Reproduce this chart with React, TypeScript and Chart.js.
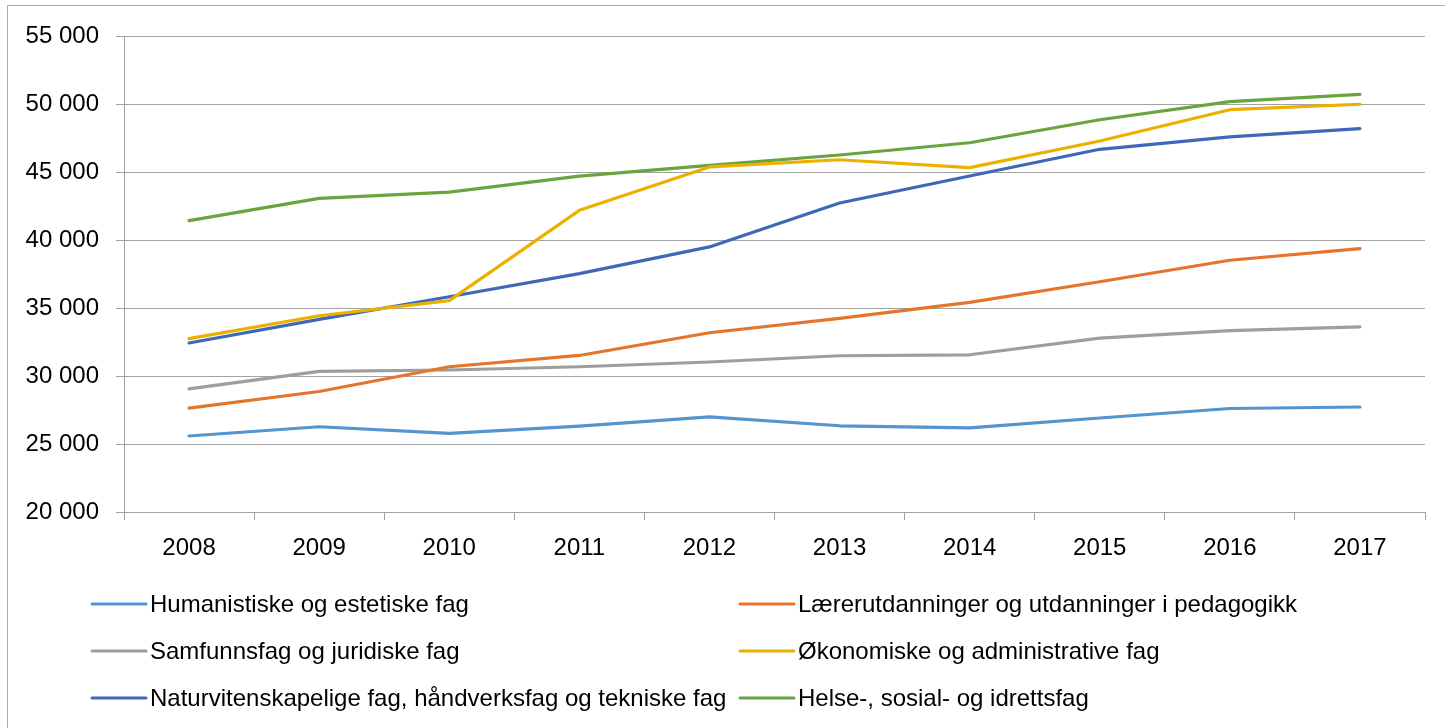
import React, { useEffect, useRef } from 'react';
import { Chart, registerables } from 'chart.js';

Chart.register(...registerables);

const years = ['2008', '2009', '2010', '2011', '2012', '2013', '2014', '2015', '2016', '2017'];

const humanistiske = [25590, 26270, 25780, 26320, 27000, 26340, 26180, 26910, 27610, 27720];
const laererutdanning = [27640, 28860, 30680, 31510, 33180, 34240, 35410, 36930, 38510, 39360];
const samfunnsfag = [29050, 30340, 30440, 30680, 31030, 31490, 31560, 32790, 33330, 33610];
const okonomiske = [32750, 34430, 35540, 42180, 45370, 45900, 45320, 47280, 49580, 49980];
const naturvitenskap = [32430, 34160, 35830, 37530, 39490, 42720, 44710, 46670, 47580, 48190];
const helse = [41420, 43060, 43520, 44700, 45490, 46250, 47150, 48840, 50170, 50710];

const seriesNames = [
  'Humanistiske og estetiske fag',
  'Lærerutdanninger og utdanninger i pedagogikk',
  'Samfunnsfag og juridiske fag',
  'Økonomiske og administrative fag',
  'Naturvitenskapelige fag, håndverksfag og tekniske fag',
  'Helse-, sosial- og idrettsfag',
];
const seriesValues = [humanistiske, laererutdanning, samfunnsfag, okonomiske, naturvitenskap, helse];
const seriesColors = ['#5494CF', '#E5742D', '#9E9E9E', '#EBB000', '#3F69B8', '#69A43F'];

const yMin = 20000;
const yMax = 55000;
const yStep = 5000;

const FONT = '"Liberation Sans", Arial, sans-serif';
const GRID = '#A3A3A3';

const formatThousands = (v: number) => {
  const s = String(Math.round(v));
  return s.replace(/\B(?=(\d{3})+(?!\d))/g, ' ');
};

const gridLegend = {
  id: 'gridLegend',
  afterDraw(chart: any) {
    const ctx = chart.ctx;
    ctx.save();
    ctx.font = `24px ${FONT}`;
    ctx.textBaseline = 'middle';
    ctx.textAlign = 'left';
    chart.data.datasets.forEach((ds: any, i: number) => {
      const col = i % 2;
      const row = Math.floor(i / 2);
      const x0 = col === 0 ? 92 : 740;
      const y = 604 + row * 47;
      ctx.strokeStyle = ds.borderColor;
      ctx.lineWidth = 3;
      ctx.lineCap = 'round';
      ctx.beginPath();
      ctx.moveTo(x0, y);
      ctx.lineTo(x0 + 54, y);
      ctx.stroke();
      ctx.fillStyle = '#000';
      ctx.fillText(ds.label, x0 + 58, y + 1);
    });
    ctx.restore();
  },
};

export default function App() {
  const ref = useRef<HTMLCanvasElement | null>(null);

  useEffect(() => {
    if (!ref.current) return;
    const chart = new Chart(ref.current, {
      type: 'line',
      data: {
        labels: years,
        datasets: seriesNames.map((name, i) => ({
          label: name,
          data: seriesValues[i],
          borderColor: seriesColors[i],
          backgroundColor: seriesColors[i],
          borderWidth: 3.2,
          pointRadius: 0,
          pointHoverRadius: 0,
          tension: 0,
          borderCapStyle: 'round',
          borderJoinStyle: 'round',
          fill: false,
        })),
      },
      options: {
        responsive: false,
        animation: false,
        devicePixelRatio: 1,
        layout: { padding: { left: 0, right: 20, top: 36, bottom: 156 } },
        plugins: {
          legend: { display: false },
          tooltip: { enabled: false },
          title: { display: false },
        },
        scales: {
          x: {
            type: 'category',
            offset: true,
            grid: {
              offset: true,
              drawOnChartArea: false,
              drawTicks: true,
              tickLength: 8,
              color: GRID,
              lineWidth: 1,
            },
            border: { display: true, color: GRID, width: 1 },
            ticks: {
              color: '#000',
              font: { family: FONT, size: 24 },
              padding: 14,
              maxRotation: 0,
              autoSkip: false,
            },
            afterFit: (scale: any) => {
              scale.height = 60;
            },
          },
          y: {
            min: yMin,
            max: yMax,
            grid: {
              color: GRID,
              lineWidth: 1,
              drawTicks: true,
              tickLength: 8,
            },
            border: { display: true, color: GRID, width: 1 },
            ticks: {
              stepSize: yStep,
              color: '#000',
              font: { family: FONT, size: 24 },
              padding: 17,
              callback: (v: any) => formatThousands(Number(v)),
            },
            afterFit: (scale: any) => {
              scale.width = 124;
            },
          },
        },
      },
      plugins: [gridLegend],
    });
    return () => chart.destroy();
  }, []);

  return (
    <div
      style={{
        position: 'absolute',
        left: 0,
        top: 0,
        width: 1445,
        height: 728,
        overflow: 'hidden',
        background: '#fff',
      }}
    >
      <div
        style={{
          position: 'absolute',
          left: 7,
          top: 5,
          width: 1470,
          height: 780,
          border: '1px solid #ADADAD',
          boxSizing: 'border-box',
        }}
      />
      <canvas
        ref={ref}
        width={1445}
        height={728}
        style={{ position: 'absolute', left: 0, top: 0, display: 'block' }}
      />
    </div>
  );
}
